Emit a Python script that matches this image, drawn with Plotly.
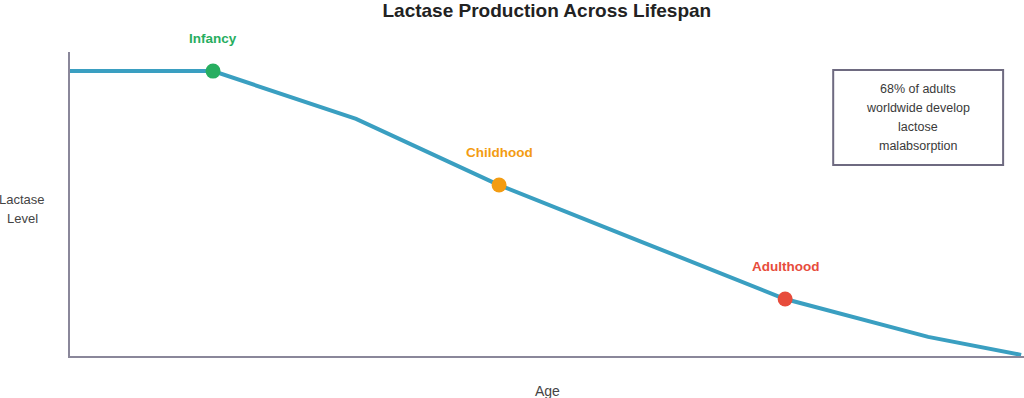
import plotly.graph_objects as go

# Data
age = [0, 1, 2, 3, 4, 5, 6, 6.65]
lactase = [100, 100, 83.2, 60, 40, 20, 6.7, 0.4]

stage_names = ["Infancy", "Childhood", "Adulthood"]
stage_age = [1, 3, 5]
stage_level = [100, 60, 20]
stage_colors = ["#27ae60", "#f39c12", "#e74c3c"]

note_lines = ["68% of adults", "worldwide develop", "lactose", "malabsorption"]
ylabel_lines = ["Lactase", "Level"]

line_color = "#3a9fc1"
axis_color = "#8a879a"
font_family = "Liberation Sans, Arial, Helvetica, sans-serif"

fig = go.Figure()
fig.add_trace(go.Scatter(
    x=age, y=lactase,
    mode="lines", line=dict(color=line_color, width=4),
    hoverinfo="skip", showlegend=False,
))
fig.add_trace(go.Scatter(
    x=stage_age, y=stage_level, mode="markers",
    marker=dict(color=stage_colors, size=15, line=dict(width=0)),
    showlegend=False,
))

for name, xa, ya, c in zip(stage_names, stage_age, stage_level, stage_colors):
    fig.add_annotation(x=xa, y=ya, text=f"<b>{name}</b>", showarrow=False,
                       yshift=33, font=dict(size=13.5, color=c, family=font_family))

# Note box
bx0, bx1, by0, by1 = 5.336, 6.524, 67.0, 100.35
fig.add_shape(type="rect", xref="x", yref="y", x0=bx0, x1=bx1, y0=by0, y1=by1,
              line=dict(color="#6e6a80", width=2), fillcolor="rgba(0,0,0,0)")
ycen = (by0 + by1) / 2
n = len(note_lines)
for i, t in enumerate(note_lines):
    fig.add_annotation(x=(bx0 + bx1) / 2, y=ycen, xref="x", yref="y",
                       text=t, showarrow=False, xanchor="center", yanchor="middle",
                       yshift=-(i - (n - 1) / 2) * 19,
                       font=dict(size=12.5, color="#3a3a3a", family=font_family))

# Axis labels
for i, t in enumerate(ylabel_lines):
    fig.add_annotation(xref="paper", yref="paper", x=-0.0503, y=0.4836, text=t,
                       showarrow=False, xanchor="center", yanchor="middle",
                       yshift=-(i - 0.5) * 19,
                       font=dict(size=13, color="#444444", family=font_family))
fig.add_annotation(xref="paper", yref="paper", x=0.5, y=-0.115, text="Age",
                   showarrow=False, xanchor="center", yanchor="middle",
                   font=dict(size=14, color="#444444", family=font_family))

fig.update_layout(
    width=1024, height=398,
    margin=dict(l=70, r=0, t=52, b=42),
    paper_bgcolor="white", plot_bgcolor="white",
    title=dict(text="<b>Lactase Production Across Lifespan</b>", x=0.534, xanchor="center",
               y=0.975, yanchor="middle",
               font=dict(size=19, color="#222222", family=font_family)),
    xaxis=dict(range=[0, 6.67], showgrid=False, zeroline=False, showticklabels=False,
               ticks="", showline=True, linecolor=axis_color, linewidth=2),
    yaxis=dict(range=[0, 106.7], showgrid=False, zeroline=False, showticklabels=False,
               ticks="", showline=True, linecolor=axis_color, linewidth=2),
    font=dict(family=font_family),
)

fig.write_html("out.html", config={"displayModeBar": False},
               post_script="document.body.style.margin='0';document.body.style.overflow='hidden';")
